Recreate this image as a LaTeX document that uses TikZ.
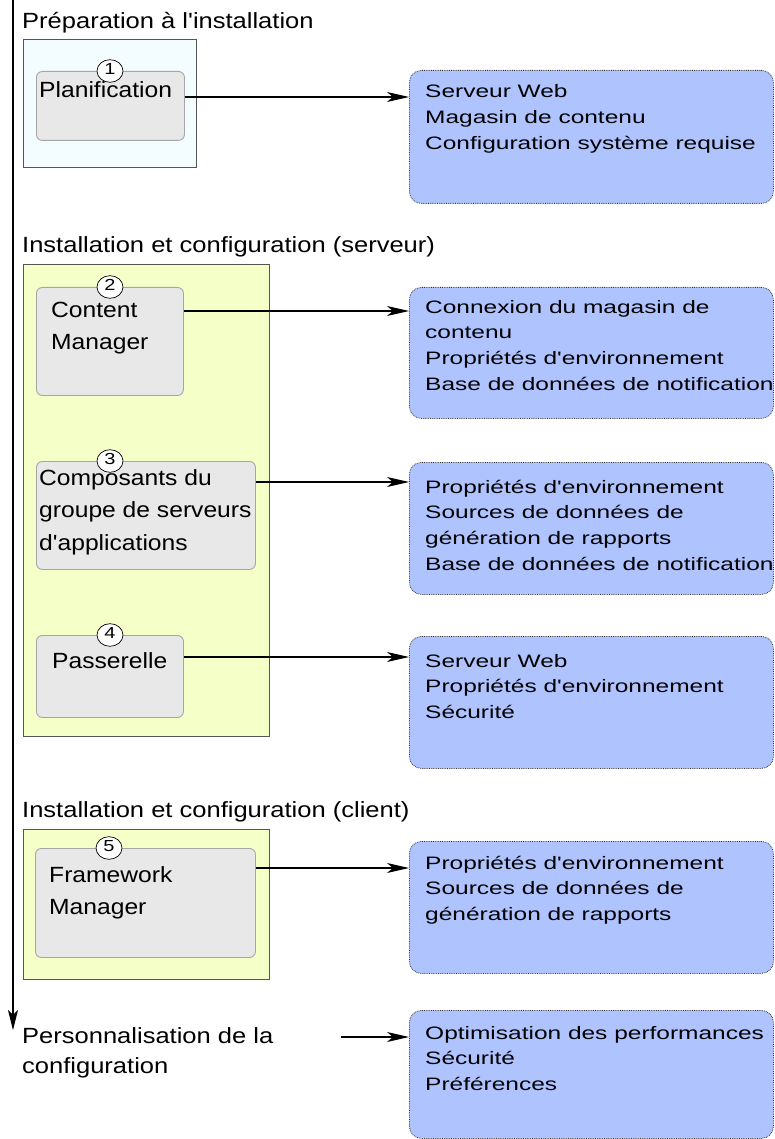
\documentclass[tikz,border=0pt]{standalone}
\usepackage{fontspec}
\setmainfont{Liberation Sans}
\usetikzlibrary{arrows.meta,shapes.geometric}
\definecolor{prepfill}{HTML}{F3FDFF}
\definecolor{instfill}{HTML}{F5FFC8}
\definecolor{stepfill}{HTML}{E8E8E8}
\definecolor{stepline}{HTML}{A6A6A6}
\definecolor{taskfill}{HTML}{AFC4FF}
\definecolor{frameline}{HTML}{555555}
\newcommand{\hstretch}[2]{\scalebox{#1}[1]{\begin{tabular}[t]{@{}l@{}}#2\end{tabular}}}
\newcommand{\q}{\textquotesingle}
\tikzset{
  phase/.style={anchor=base west, inner sep=0pt, font=\fontsize{22}{30}\selectfont},
  group/.style={draw=frameline, line width=1pt, anchor=north west, inner sep=0pt},
  stepbox/.style={draw=stepline, fill=stepfill, rounded corners=6pt, line width=0.9pt,
    anchor=north west, inner sep=0pt},
  steptext/.style={anchor=base west, inner sep=0pt, font=\fontsize{22}{32.5}\selectfont},
  stepnum/.style={ellipse, draw, fill=white, line width=0.7pt, minimum width=26pt,
    minimum height=17pt, inner sep=0pt, font=\fontsize{16}{16}\selectfont},
  taskbox/.style={draw=black!80, densely dotted, fill=taskfill, rounded corners=12pt,
    line width=0.8pt, anchor=north west, inner sep=0pt, minimum width=364pt},
  tasktext/.style={anchor=base west, inner sep=0pt, font=\fontsize{18}{25.7}\selectfont},
  flow/.style={line width=1.2pt, -{Stealth[length=22pt,width=10pt,inset=6pt]}}
}
\begin{document}
\begin{tikzpicture}[x=1pt,y=-1pt]
  \useasboundingbox (0,0) rectangle (774,1139);
  \coordinate (timetop) at (13,0);
  \coordinate (timeend) at (13,1030);
  \draw[line width=1.2pt, -{Stealth[length=20pt,width=10pt,inset=5pt]}] (timetop) -- (timeend);

  \node[phase] (hprep) at (22,29) {\hstretch{1.16}{Préparation à l\q installation}};
  \node[phase] (hserv) at (22,253) {\hstretch{1.16}{Installation et configuration (serveur)}};
  \node[phase] (hclient) at (22,817) {\hstretch{1.16}{Installation et configuration (client)}};
  \node[phase] (hcustom) at (22,1043) {\hstretch{1.16}{Personnalisation de la\\configuration}};

  \node[group, fill=prepfill, minimum width=173pt, minimum height=128pt] (prep) at (23,39) {};
  \node[group, fill=instfill, minimum width=246pt, minimum height=472pt] (serv) at (23,264) {};
  \node[group, fill=instfill, minimum width=246pt, minimum height=150pt] (client) at (23,829) {};

  \node[stepbox, minimum width=148pt, minimum height=69pt] (plan) at (36,71) {};
  \node[stepbox, minimum width=147pt, minimum height=108pt] (cm) at (36,287) {};
  \node[stepbox, minimum width=219pt, minimum height=108pt] (comp) at (36,461) {};
  \node[stepbox, minimum width=147pt, minimum height=82pt] (gate) at (36,635) {};
  \node[stepbox, minimum width=220pt, minimum height=109pt] (fm) at (35,848) {};

  \node[steptext] (plantxt) at (39,98) {\hstretch{1.12}{Planification}};
  \node[steptext] (cmtxt) at (51,317) {\hstretch{1.12}{Content\\Manager}};
  \node[steptext] (comptxt) at (39,485) {\hstretch{1.12}{Composants du\\groupe de serveurs\\d\q applications}};
  \node[steptext] (gatetxt) at (52,668) {\hstretch{1.12}{Passerelle}};
  \node[steptext] (fmtxt) at (49,882) {\hstretch{1.12}{Framework\\Manager}};

  \node[stepnum] (n1) at ([xshift=74pt]plan.north west) {\hstretch{1.25}{1}};
  \node[stepnum] (n2) at ([xshift=74pt]cm.north west) {\hstretch{1.25}{2}};
  \node[stepnum] (n3) at ([xshift=74pt]comp.north west) {\hstretch{1.25}{3}};
  \node[stepnum] (n4) at ([xshift=74pt]gate.north west) {\hstretch{1.25}{4}};
  \node[stepnum] (n5) at ([xshift=74pt]fm.north west) {\hstretch{1.25}{5}};

  \node[taskbox, minimum height=133pt] (req1) at (409,70) {};
  \node[taskbox, minimum height=131pt] (req2) at (409,287) {};
  \node[taskbox, minimum height=132pt] (req3) at (409,462) {};
  \node[taskbox, minimum height=132pt] (req4) at (409,636) {};
  \node[taskbox, minimum height=132pt] (req5) at (409,841) {};
  \node[taskbox, minimum height=128pt] (req6) at (409,1010) {};

  \node[tasktext] (req1txt) at (425,98) {\hstretch{1.36}{Serveur Web\\Magasin de contenu\\Configuration système requise}};
  \node[tasktext] (req2txt) at (425,313) {\hstretch{1.36}{Connexion du magasin de\\contenu\\Propriétés d\q environnement\\Base de données de notification}};
  \node[tasktext] (req3txt) at (425,493) {\hstretch{1.36}{Propriétés d\q environnement\\Sources de données de\\génération de rapports\\Base de données de notification}};
  \node[tasktext] (req4txt) at (425,667) {\hstretch{1.36}{Serveur Web\\Propriétés d\q environnement\\Sécurité}};
  \node[tasktext] (req5txt) at (425,869) {\hstretch{1.36}{Propriétés d\q environnement\\Sources de données de\\génération de rapports}};
  \node[tasktext] (req6txt) at (425,1039) {\hstretch{1.36}{Optimisation des performances\\Sécurité\\Préférences}};

  \coordinate (lvl1) at (0,97);
  \coordinate (lvl2) at (0,311);
  \coordinate (lvl3) at (0,482);
  \coordinate (lvl4) at (0,657);
  \coordinate (lvl5) at (0,868);
  \coordinate (custom) at (341,1037);
  \draw[flow] (plan.east |- lvl1) -- (req1.west |- lvl1);
  \draw[flow] (cm.east |- lvl2) -- (req2.west |- lvl2);
  \draw[flow] (comp.east |- lvl3) -- (req3.west |- lvl3);
  \draw[flow] (gate.east |- lvl4) -- (req4.west |- lvl4);
  \draw[flow] (fm.east |- lvl5) -- (req5.west |- lvl5);
  \draw[flow] (custom) -- (req6.west |- custom);
\end{tikzpicture}
\end{document}
